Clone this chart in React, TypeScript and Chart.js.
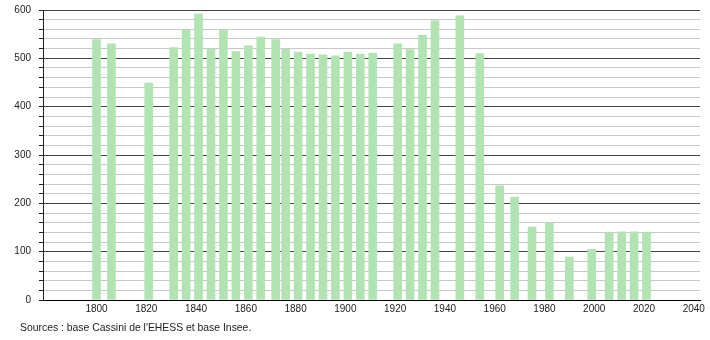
import React, { useEffect, useRef } from "react";
import { Chart, registerables } from "chart.js";

Chart.register(...registerables);

const years = [1800, 1806, 1821, 1831, 1836, 1841, 1846, 1851, 1856, 1861, 1866, 1872, 1876, 1881, 1886, 1891, 1896, 1901, 1906, 1911, 1921, 1926, 1931, 1936, 1946, 1954, 1962, 1968, 1975, 1982, 1990, 1999, 2006, 2011, 2016, 2021];
const population = [539, 530, 449, 522, 558, 592, 519, 558, 514, 526, 544, 539, 519, 513, 509, 507, 505, 513, 509, 511, 530, 518, 548, 578, 588, 510, 236, 213, 151, 159, 89, 105, 139, 141, 141, 139];
const xTicks = [1800, 1820, 1840, 1860, 1880, 1900, 1920, 1940, 1960, 1980, 2000, 2020, 2040];
const sourceText = "Sources : base Cassini de l'EHESS et base Insee.";

export default function App() {
  const ref = useRef<HTMLCanvasElement | null>(null);
  useEffect(() => {
    if (!ref.current) return;
    const sourcePlugin = {
      id: "sourceText",
      afterDraw(chart: any) {
        const ctx = chart.ctx;
        ctx.save();
        ctx.font = "10.4px 'Liberation Sans', Arial, sans-serif";
        ctx.fillStyle = "#222";
        ctx.textAlign = "left";
        ctx.textBaseline = "middle";
        ctx.fillText(sourceText, 20, 328);
        ctx.restore();
      },
    };
    const chart = new Chart(ref.current, {
      type: "bar",
      data: {
        datasets: [
          {
            data: years.map((y, i) => ({ x: y, y: population[i] })),
            backgroundColor: "#b2e3b2",
            borderWidth: 0,
            barThickness: 8,
          },
        ],
      },
      options: {
        responsive: false,
        animation: false,
        layout: { padding: { left: 0, right: 10, top: 10, bottom: 0 } },
        plugins: { legend: { display: false }, tooltip: { enabled: false } },
        scales: {
          x: {
            type: "linear",
            min: 1778.5,
            max: 2042.5,
            offset: false,
            grid: { display: false, drawTicks: false, tickLength: 0 },
            border: { display: true, color: "#000", width: 1 },
            afterBuildTicks: (scale: any) => {
              scale.ticks = xTicks.map((v) => ({ value: v }));
            },
            afterFit: (scale: any) => {
              scale.height = 40;
              scale.paddingLeft = 0;
              scale.paddingRight = 0;
            },
            ticks: {
              padding: 3,
              maxRotation: 0,
              autoSkip: false,
              color: "#222",
              font: { family: "'Liberation Sans', Arial, sans-serif", size: 10 },
              callback: (v: any) => String(v),
            },
          },
          y: {
            min: 0,
            max: 600,
            border: { display: true, color: "#222", width: 1 },
            grid: {
              color: (c: any) => (c.tick && c.tick.value % 100 === 0 ? "#444" : "#c8c8c8"),
              lineWidth: 1,
              tickLength: 4,
              tickColor: "#222",
            },
            afterFit: (scale: any) => {
              scale.width = 43;
              scale.paddingTop = 0;
              scale.paddingBottom = 0;
            },
            ticks: {
              stepSize: 20,
              padding: 8,
              autoSkip: false,
              color: "#222",
              font: { family: "'Liberation Sans', Arial, sans-serif", size: 10 },
              callback: (v: any) => (Number(v) % 100 === 0 ? String(v) : ""),
            },
          },
        },
      },
      plugins: [sourcePlugin],
    });
    return () => chart.destroy();
  }, []);
  return (
    <div style={{ position: "fixed", left: 0, top: 0, width: 710, height: 340, background: "#fff" }}>
      <canvas ref={ref} width={710} height={340} style={{ width: 710, height: 340 }} />
    </div>
  );
}
